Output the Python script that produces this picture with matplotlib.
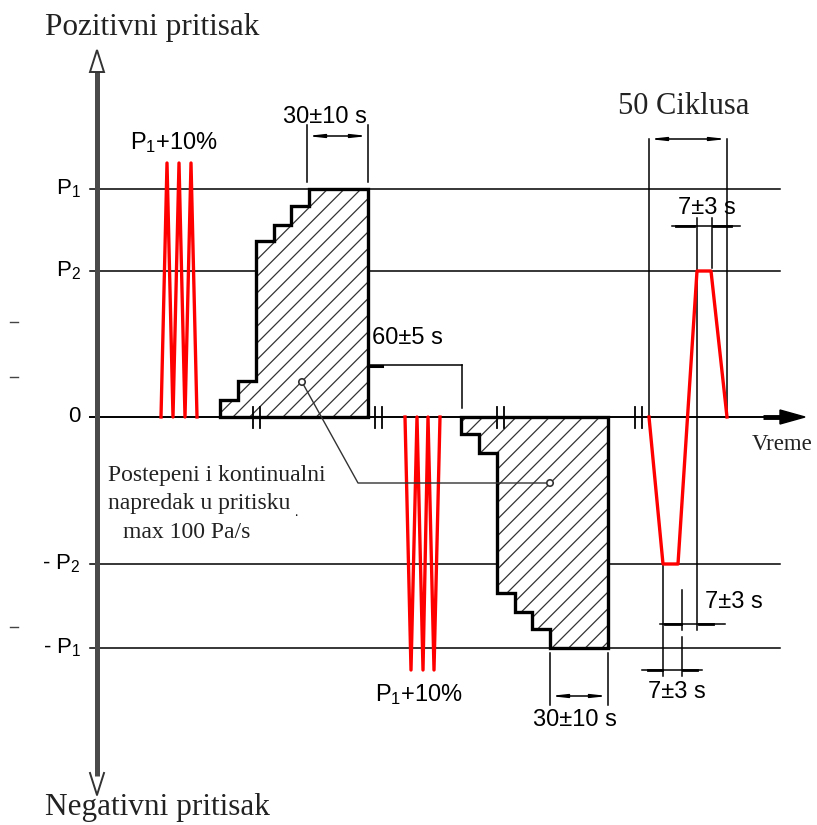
import numpy as np
import matplotlib
matplotlib.use("Agg")
import matplotlib.pyplot as plt
from matplotlib.patches import Polygon, Circle

plt.rcParams['mathtext.fontset'] = 'custom'
plt.rcParams['mathtext.rm'] = 'Liberation Sans'
plt.rcParams['mathtext.default'] = 'regular'
plt.rcParams['hatch.linewidth'] = 0.9

# diagram units: x = time position, y = pressure position (screen-like, grows downward)
level_labels = ['P$_1$', 'P$_2$', '0', '- P$_2$', '- P$_1$']
level_y = [189, 271, 417, 564, 648]
zero_y = 417

# stepwise rise to P1 (positive) and fall to -P1 (negative)
pos_step_x = [220, 220, 238, 238, 256, 256, 274, 274, 291, 291, 309, 309, 368, 368]
pos_step_y = [417, 400, 400, 381, 381, 241, 241, 225, 225, 206, 206, 189, 189, 417]
neg_step_x = [461, 461, 479, 479, 497, 497, 515, 515, 532, 532, 550, 550, 608, 608]
neg_step_y = [417, 434, 434, 453, 453, 593, 593, 612, 612, 629, 629, 648, 648, 417]

# P1+10% pulses
pos_pulse_x = [161, 167, 173, 179, 185, 191, 197]
pos_pulse_y = [417, 163, 417, 163, 417, 163, 417]
neg_pulse_x = [405, 411, 417, 423, 428, 434, 440]
neg_pulse_y = [417, 670, 417, 670, 417, 670, 417]

# one of the 50 cycles
cycle_x = [649, 663, 678, 697, 711, 727]
cycle_y = [417, 564, 564, 271, 271, 417]

break_x = [253, 375, 497, 635]

fig = plt.figure(figsize=(8.17, 8.25), dpi=100)
ax = fig.add_axes([0, 0, 1, 1])
ax.set_xlim(0, 817)
ax.set_ylim(825, 0)
ax.axis('off')

serif = 'Liberation Serif'
sans = 'Liberation Sans'
fs_sans = 17

# horizontal level lines
for lab, y in zip(level_labels, level_y):
    if y != zero_y:
        ax.plot([90, 780], [y, y], color='black', lw=1.1, zorder=2)
    ax.text(81, y, lab, ha='right', va='center', fontsize=16, family=sans)

# time axis with arrow
ax.plot([90, 775], [zero_y, zero_y], color='black', lw=1.4, zorder=3)
ax.plot([763, 782], [zero_y, zero_y], color='black', lw=3.5, zorder=3, solid_capstyle='butt')
ax.add_patch(Polygon([[780, zero_y - 7], [805, zero_y], [780, zero_y + 7]],
                     closed=True, color='black', zorder=3))
ax.text(752, 444, 'Vreme', ha='left', va='center', fontsize=16.5, family=serif,
        color='#222222')

# pressure axis with open arrow heads
ax.plot([97, 97], [70, 776], color='#4a4a4a', lw=3.6, zorder=4, solid_capstyle='butt')
ax.add_patch(Polygon([[90, 72], [97, 50], [104, 72]], closed=True,
                     facecolor='white', edgecolor='#333333', lw=1.4, zorder=5))
ax.plot([90, 97, 104], [773, 795, 773], color='#333333', lw=1.4, zorder=5)
ax.text(45, 28, 'Pozitivni pritisak', ha='left', va='center', fontsize=22.5,
        family=serif, color='#222222')
ax.text(45, 808, 'Negativni pritisak', ha='left', va='center', fontsize=22.5,
        family=serif, color='#222222')

# stray marks on the left margin
for y in [322, 377, 627]:
    ax.plot([10, 18], [y, y], color='#444444', lw=1.0)

# hatched staircases
for sx, sy in [(pos_step_x, pos_step_y), (neg_step_x, neg_step_y)]:
    pts = np.column_stack([sx, sy])
    ax.add_patch(Polygon(pts, closed=True, facecolor='white', edgecolor='#333333',
                         lw=0, hatch='//', zorder=2))
    ax.add_patch(Polygon(pts, closed=True, fill=False, edgecolor='black',
                         lw=2.4, joinstyle='miter', zorder=3))

# red pulses
ax.plot(pos_pulse_x, pos_pulse_y, color='#ff0000', lw=2.4, zorder=4)
ax.plot(neg_pulse_x, neg_pulse_y, color='#ff0000', lw=2.4, zorder=4)
ax.plot(cycle_x, cycle_y, color='#ff0000', lw=2.4, zorder=4)
ax.text(130, 143, 'P$_1$+10%', ha='left', va='center', fontsize=fs_sans, family=sans)
ax.text(375, 695, 'P$_1$+10%', ha='left', va='center', fontsize=fs_sans, family=sans)

# break marks on the time axis
for bx in break_x:
    ax.plot([bx, bx], [407, 428], color='black', lw=1.3, zorder=5)
    ax.plot([bx + 7, bx + 7], [407, 428], color='black', lw=1.3, zorder=5)


def dim(x0, x1, y, lw=1.1):
    ax.annotate('', xy=(x0, y), xytext=(x1, y),
                arrowprops=dict(arrowstyle='<|-|>,head_length=0.9,head_width=0.1',
                                color='black', lw=lw, shrinkA=0, shrinkB=0), zorder=5)


def vline(x, y0, y1, lw=1.1):
    ax.plot([x, x], [y0, y1], color='black', lw=lw, zorder=3)


# 30 +- 10 s (top)
vline(307, 125, 182)
vline(368, 125, 182)
dim(307, 368, 136)
ax.text(283, 117, '30±10 s', ha='left', va='center', fontsize=fs_sans, family=sans)

# 60 +- 5 s
ax.plot([368, 462], [365, 365], color='black', lw=1.1, zorder=3)
ax.plot([368, 382], [366, 366], color='black', lw=2.2, zorder=3)
vline(462, 365, 408)
ax.text(372, 338, '60±5 s', ha='left', va='center', fontsize=fs_sans, family=sans)

# 30 +- 10 s (bottom)
vline(550, 653, 705)
vline(608, 653, 705)
dim(550, 608, 696)
ax.text(533, 720, '30±10 s', ha='left', va='center', fontsize=fs_sans, family=sans)

# 50 cycles bracket
vline(649, 139, 417)
vline(727, 139, 417)
dim(649, 727, 139)
ax.text(618, 106, '50 Ciklusa', ha='left', va='center', fontsize=22, family=serif,
        color='#222222')

# 7 +- 3 s (top)
vline(697, 218, 630)
vline(712, 218, 268)
ax.plot([672, 740], [226, 226], color='black', lw=1.1, zorder=3)
ax.plot([676, 694], [226, 226], color='black', lw=2.0, zorder=3)
ax.plot([713, 731], [226, 226], color='black', lw=2.0, zorder=3)
ax.text(678, 208, '7±3 s', ha='left', va='center', fontsize=fs_sans, family=sans)

# 7 +- 3 s (right and bottom)
vline(682, 590, 630)
vline(682, 637, 676)
vline(663, 564, 676)
ax.plot([660, 725], [624, 624], color='black', lw=1.1, zorder=3)
ax.plot([665, 681], [624, 624], color='black', lw=2.0, zorder=3)
ax.plot([699, 713], [624, 624], color='black', lw=2.0, zorder=3)
ax.text(705, 602, '7±3 s', ha='left', va='center', fontsize=fs_sans, family=sans)
ax.plot([642, 702], [670, 670], color='black', lw=1.1, zorder=3)
ax.plot([648, 662], [670, 670], color='black', lw=2.0, zorder=3)
ax.plot([683, 697], [670, 670], color='black', lw=2.0, zorder=3)
ax.text(648, 692, '7±3 s', ha='left', va='center', fontsize=fs_sans, family=sans)

# leader to both hatched areas
ax.plot([302, 358, 550], [382, 483, 483], color='#333333', lw=1.0, zorder=5)
for cx, cy in [(302, 382), (550, 483)]:
    ax.add_patch(Circle((cx, cy), 3.2, facecolor='white', edgecolor='#333333',
                        lw=1.2, zorder=6))
ax.text(108, 475, 'Postepeni i kontinualni', ha='left', va='center', fontsize=17,
        family=serif, color='#222222')
ax.text(108, 503, 'napredak u pritisku', ha='left', va='center', fontsize=17,
        family=serif, color='#222222')
ax.text(294, 512, '.', ha='left', va='center', fontsize=10, family=serif)
ax.text(123, 533, 'max 100 Pa/s', ha='left', va='center', fontsize=17,
        family=serif, color='#222222')

fig.savefig('out.png', dpi=100, facecolor='white')
